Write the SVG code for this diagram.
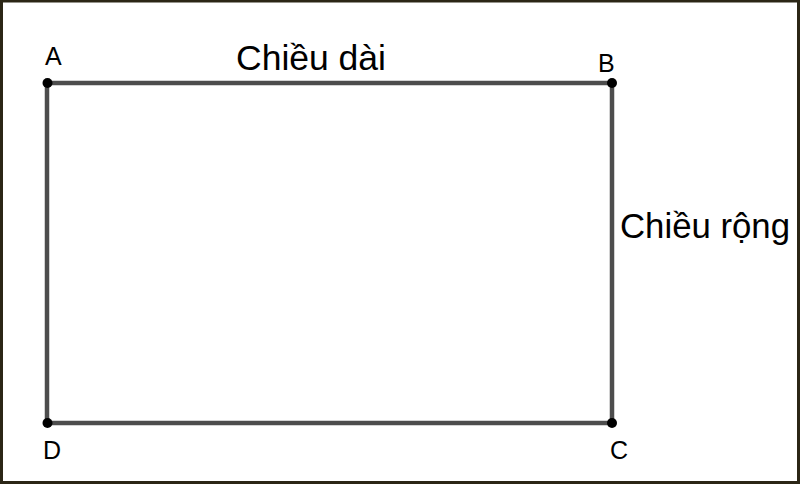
<svg xmlns="http://www.w3.org/2000/svg" width="800" height="484" viewBox="0 0 800 484">
  <style>
    .edge { stroke: #4d4d4d; stroke-width: 4.5; fill: none; stroke-linecap: round; }
    .pt { fill: #000; }
    .lbl { font-family: "Liberation Sans", Arial, sans-serif; font-size: 25px; fill: #000; }
    .dim { font-family: "Liberation Sans", Arial, sans-serif; font-size: 35px; fill: #000; }
  </style>
  <rect x="0" y="0" width="800" height="484" fill="#2b2616"/>
  <rect x="3" y="2.5" width="794" height="478.5" fill="#fff"/>
  <g id="connectors">
    <line class="edge" x1="47" y1="83" x2="612" y2="83"/>
    <line class="edge" x1="612" y1="83" x2="612" y2="423"/>
    <line class="edge" x1="612" y1="423" x2="47" y2="423"/>
    <line class="edge" x1="47" y1="423" x2="47" y2="83"/>
  </g>
  <g id="A"><circle class="pt" cx="47.5" cy="83" r="5"/><text class="lbl" x="45" y="65">A</text></g>
  <g id="B"><circle class="pt" cx="612" cy="83" r="5"/><text class="lbl" x="598" y="72">B</text></g>
  <g id="C"><circle class="pt" cx="612" cy="423" r="5"/><text class="lbl" x="610" y="459">C</text></g>
  <g id="D"><circle class="pt" cx="47.5" cy="423" r="5"/><text class="lbl" x="43" y="459">D</text></g>
  <g id="chieu-dai"><text class="dim" x="236" y="70" textLength="150" lengthAdjust="spacingAndGlyphs">Chiều dài</text></g>
  <g id="chieu-rong"><text class="dim" x="620" y="238" textLength="170" lengthAdjust="spacingAndGlyphs">Chiều rộng</text></g>
</svg>
